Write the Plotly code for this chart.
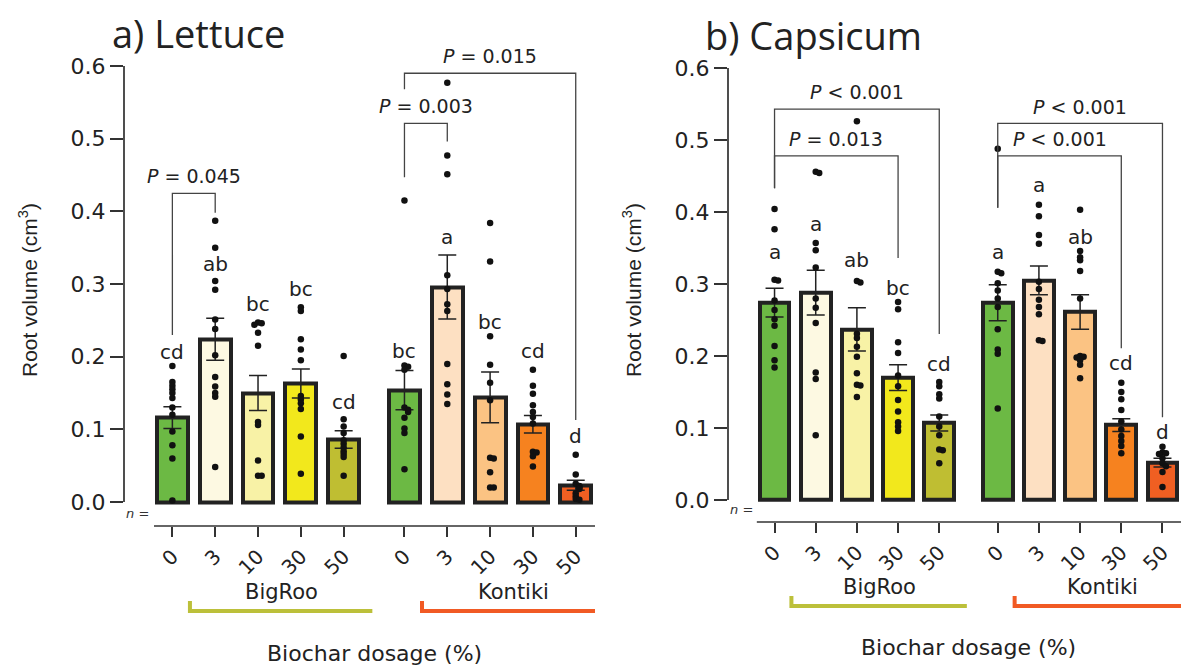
import plotly.graph_objects as go

# ---------------- data ----------------
dosages = ["0", "3", "10", "30", "50", "0", "3", "10", "30", "50"]
groups = ["BigRoo", "Kontiki"]

lettuce_mean = [0.116, 0.224, 0.150, 0.163, 0.086, 0.154, 0.296, 0.144, 0.107, 0.023]
lettuce_se = [0.015, 0.029, 0.024, 0.020, 0.012, 0.027, 0.044, 0.035, 0.012, 0.007]
lettuce_letters = ["cd", "ab", "bc", "bc", "cd", "bc", "a", "bc", "cd", "d"]

L_B0 = [0.187, 0.165, 0.160, 0.155, 0.150, 0.143, 0.130, 0.120, 0.097, 0.078, 0.060, 0.002]
L_B3 = [0.387, 0.350, 0.304, 0.292, 0.251, 0.238, 0.202, 0.172, 0.159, 0.150, 0.145, 0.048]
L_B10 = [0.247, 0.246, 0.244, 0.233, 0.215, 0.110, 0.106, 0.057, 0.036, 0.036]
L_B30 = [0.268, 0.263, 0.224, 0.210, 0.195, 0.146, 0.141, 0.136, 0.128, 0.090, 0.039]
L_B50 = [0.201, 0.114, 0.104, 0.095, 0.085, 0.080, 0.075, 0.070, 0.066, 0.062, 0.036]
L_K0 = [0.415, 0.188, 0.186, 0.182, 0.130, 0.127, 0.124, 0.116, 0.101, 0.095, 0.045]
L_K3 = [0.577, 0.477, 0.451, 0.312, 0.293, 0.272, 0.263, 0.190, 0.162, 0.148, 0.135]
L_K10 = [0.384, 0.331, 0.228, 0.189, 0.164, 0.140, 0.061, 0.060, 0.041, 0.020, 0.020]
L_K30 = [0.182, 0.160, 0.149, 0.133, 0.124, 0.117, 0.108, 0.069, 0.068, 0.063, 0.049]
L_K50 = [0.065, 0.038, 0.025, 0.022, 0.020, 0.018, 0.012, 0.008, 0.004, 0.003]
lettuce_points = [L_B0, L_B3, L_B10, L_B30, L_B50, L_K0, L_K3, L_K10, L_K30, L_K50]

capsicum_mean = [0.274, 0.288, 0.237, 0.170, 0.107, 0.274, 0.305, 0.261, 0.104, 0.052]
capsicum_se = [0.020, 0.031, 0.030, 0.018, 0.011, 0.025, 0.020, 0.024, 0.009, 0.006]
capsicum_letters = ["a", "a", "ab", "bc", "cd", "a", "a", "ab", "cd", "d"]

C_B0 = [0.404, 0.376, 0.306, 0.305, 0.277, 0.264, 0.251, 0.242, 0.214, 0.194, 0.184]
C_B3 = [0.456, 0.454, 0.357, 0.347, 0.323, 0.280, 0.267, 0.246, 0.177, 0.168, 0.090]
C_B10 = [0.526, 0.304, 0.302, 0.231, 0.225, 0.213, 0.199, 0.176, 0.160, 0.159, 0.143]
C_B30 = [0.275, 0.265, 0.219, 0.204, 0.173, 0.158, 0.139, 0.123, 0.108, 0.102, 0.096]
C_B50 = [0.164, 0.158, 0.147, 0.141, 0.116, 0.102, 0.090, 0.070, 0.069, 0.051]
C_K0 = [0.488, 0.317, 0.315, 0.301, 0.291, 0.280, 0.268, 0.237, 0.209, 0.203, 0.127]
C_K3 = [0.410, 0.394, 0.368, 0.356, 0.303, 0.293, 0.278, 0.268, 0.258, 0.222, 0.221]
C_K10 = [0.403, 0.346, 0.337, 0.333, 0.318, 0.280, 0.200, 0.199, 0.198, 0.194, 0.188, 0.169]
C_K30 = [0.163, 0.150, 0.140, 0.125, 0.109, 0.098, 0.089, 0.082, 0.075, 0.065]
C_K50 = [0.074, 0.066, 0.065, 0.064, 0.058, 0.051, 0.047, 0.039, 0.018]
capsicum_points = [C_B0, C_B3, C_B10, C_B30, C_B50, C_K0, C_K3, C_K10, C_K30, C_K50]

# pairwise comparisons: (bar i, bar j, label)
lettuce_pvals = [(0, 1, "<i>P</i> = 0.045"), (5, 6, "<i>P</i> = 0.003"), (5, 9, "<i>P</i> = 0.015")]
capsicum_pvals = [(0, 3, "<i>P</i> = 0.013"), (0, 4, "<i>P</i> < 0.001"),
                  (5, 8, "<i>P</i> < 0.001"), (5, 9, "<i>P</i> < 0.001")]

# ---------------- layout / styling ----------------
W, H = 1189, 666
pos = [0, 1, 2, 3, 4, 5.42, 6.42, 7.42, 8.42, 9.42]
group_start = [0, 5.42]
colors = ["#6cb944", "#fdf9e2", "#f8f2a6", "#f2e81c", "#bfbe32",
          "#6cb944", "#fde0c2", "#fbc383", "#f6821f", "#f05f22"]
group_colors = ["#bcc03a", "#f15a24"]

# label heights (annotation positions)
lettuce_letter_y = [0.207, 0.327, 0.272, 0.293, 0.137, 0.208, 0.365, 0.248, 0.208, 0.091]
capsicum_letter_y = [0.345, 0.383, 0.333, 0.294, 0.189, 0.345, 0.4375, 0.365, 0.190, 0.095]
# (top, left drop, right drop, text y)
lettuce_brackets = [(0.4246, 0.2297, 0.398, 0.449), (0.521, 0.447, 0.496, 0.545),
                    (0.590, 0.568, 0.113, 0.614)]
capsicum_brackets = [(0.478, 0.433, 0.336, 0.501), (0.543, 0.433, 0.2306, 0.566),
                     (0.478, 0.406, 0.2106, 0.501), (0.523, 0.406, 0.115, 0.546)]

TICKFONT = "DejaVu Sans"
INK = "#222222"
YTOP = 0.66  # axis range top (above last tick, room for labels)

panels = [
    dict(name="a) Lettuce", mean=lettuce_mean, se=lettuce_se, pts=lettuce_points,
         letters=lettuce_letters, letter_y=lettuce_letter_y, pv=lettuce_pvals,
         br=lettuce_brackets, xpx=(124, 595), y06=66, y00=502, xline=526,
         title_xy=(198, 33), ytitle_x=28, n_xy=(124, 513), grp_y=592, brk_y=(601, 611),
         xlab_y=653),
    dict(name="b) Capsicum", mean=capsicum_mean, se=capsicum_se, pts=capsicum_points,
         letters=capsicum_letters, letter_y=capsicum_letter_y, pv=capsicum_pvals,
         br=capsicum_brackets, xpx=(728, 1181), y06=68, y00=500, xline=522,
         title_xy=(813, 35), ytitle_x=632, n_xy=(728, 510), grp_y=587, brk_y=(596, 606),
         xlab_y=647),
]
xrange_ = [-1.13, 9.87]


def jitter(vals, step=0.085, tol=0.004):
    offs = []
    for i, v in enumerate(vals):
        k = sum(1 for w in vals[:i] if abs(w - v) < tol)
        offs.append([0, step, -step, 2 * step][k % 4])
    return offs


def py(ypix):
    return 1 - ypix / H


def ann(**kw):
    d = dict(showarrow=False, xanchor="center", yanchor="middle")
    d.update(kw)
    return d


fig = go.Figure()
shapes = []
annotations = []

for p, panel in enumerate(panels):
    xa = "x" if p == 0 else "x2"
    ya = "y" if p == 0 else "y2"
    xkey = "xaxis" if p == 0 else "xaxis2"
    ykey = "yaxis" if p == 0 else "yaxis2"

    scale = (panel["y00"] - panel["y06"]) / 0.6  # px per unit
    ybot = -(panel["xline"] - panel["y00"]) / scale
    top_px = panel["y00"] - YTOP * scale

    fig.add_trace(go.Bar(
        x=pos, y=panel["mean"], width=0.72, xaxis=xa, yaxis=ya,
        marker=dict(color=colors, line=dict(color=INK, width=4)),
        error_y=dict(type="data", array=panel["se"], color=INK, thickness=1.5, width=9),
        showlegend=False, hoverinfo="skip"))

    xs, ys = [], []
    for i, vals in enumerate(panel["pts"]):
        for off, v in zip(jitter(vals), vals):
            xs.append(pos[i] + off)
            ys.append(v)
    fig.add_trace(go.Scatter(
        x=xs, y=ys, mode="markers", xaxis=xa, yaxis=ya, cliponaxis=False,
        marker=dict(color="#111111", size=6.5), showlegend=False, hoverinfo="skip"))

    x0p, x1p = panel["xpx"]
    fig.update_layout(**{
        xkey: dict(domain=[x0p / W, x1p / W], range=xrange_, showgrid=False, zeroline=False,
                   showline=False, tickmode="array", tickvals=pos, ticktext=dosages,
                   ticks="outside", ticklen=10, tickwidth=1.5, tickcolor="#333",
                   tickangle=-45, tickfont=dict(family=TICKFONT, size=20, color=INK),
                   anchor=ya, fixedrange=True, automargin=False),
        ykey: dict(domain=[py(panel["xline"]), py(top_px)], range=[ybot, YTOP], showgrid=False,
                   zeroline=False, showline=False, tickmode="array",
                   tickvals=[0, 0.1, 0.2, 0.3, 0.4, 0.5, 0.6],
                   ticktext=["0.0", "0.1", "0.2", "0.3", "0.4", "0.5", "0.6"],
                   ticks="outside", ticklen=13, tickwidth=1.5, tickcolor="#333",
                   tickfont=dict(family=TICKFONT, size=22, color=INK), anchor=xa,
                   fixedrange=True, automargin=False),
    })

    # axis lines
    shapes.append(dict(type="line", xref=f"{xa} domain", yref=ya, x0=0, x1=0, y0=0, y1=0.6,
                       line=dict(color=INK, width=1.6)))
    shapes.append(dict(type="line", xref=xa, yref="paper", x0=-0.43, x1=xrange_[1],
                       y0=py(panel["xline"]), y1=py(panel["xline"]),
                       line=dict(color="#333", width=1.5)))

    # letters
    for i, (lt, ly) in enumerate(zip(panel["letters"], panel["letter_y"])):
        annotations.append(ann(x=pos[i], y=ly, xref=xa, yref=ya, text=lt,
                               font=dict(family=TICKFONT, size=20, color=INK)))

    # significance brackets
    for (i, j, lab), (top, lb, rb, ty) in zip(panel["pv"], panel["br"]):
        shapes.append(dict(type="path", xref=xa, yref=ya,
                           path=f"M {pos[i]},{lb} L {pos[i]},{top} L {pos[j]},{top} L {pos[j]},{rb}",
                           line=dict(color="#444", width=1.3)))
        annotations.append(ann(x=(pos[i] + pos[j]) / 2, y=ty, xref=xa, yref=ya, text=lab,
                               font=dict(family=TICKFONT, size=19, color=INK)))

    # group labels and coloured brackets
    for g, gname in enumerate(groups):
        gs = group_start[g]
        annotations.append(ann(x=gs + 2.54, y=py(panel["grp_y"]), xref=xa, yref="paper",
                               text=gname, font=dict(family=TICKFONT, size=21, color=INK)))
        yb_top, yb = panel["brk_y"]
        shapes.append(dict(type="path", xref=xa, yref="paper",
                           path=f"M {gs + 0.41},{py(yb_top)} L {gs + 0.41},{py(yb)} L {gs + 4.67},{py(yb)}",
                           line=dict(color=group_colors[g], width=4)))

    # axis titles, panel title, n =
    annotations.append(ann(x=4.71, y=py(panel["xlab_y"]), xref=xa, yref="paper",
                           text="Biochar dosage (%)",
                           font=dict(family=TICKFONT, size=22, color=INK)))
    annotations.append(ann(x=panel["ytitle_x"] / W, y=py(290), xref="paper", yref="paper",
                           text="Root volume (cm<sup>3</sup>)", textangle=-90,
                           font=dict(family="Liberation Sans", size=21, color=INK)))
    annotations.append(ann(x=panel["title_xy"][0] / W, y=py(panel["title_xy"][1]),
                           xref="paper", yref="paper", text=panel["name"],
                           font=dict(family="Open Sans", size=38, color=INK)))
    annotations.append(ann(x=panel["n_xy"][0] / W, y=py(panel["n_xy"][1]), xref="paper",
                           yref="paper", text="<i>n</i> =", xanchor="left",
                           font=dict(family=TICKFONT, size=13, color="#333")))

fig.update_layout(width=W, height=H, margin=dict(l=0, r=0, t=0, b=0, autoexpand=False),
                  paper_bgcolor="white", plot_bgcolor="white", showlegend=False,
                  bargap=0, shapes=shapes, annotations=annotations)

fig.write_html("out.html")
